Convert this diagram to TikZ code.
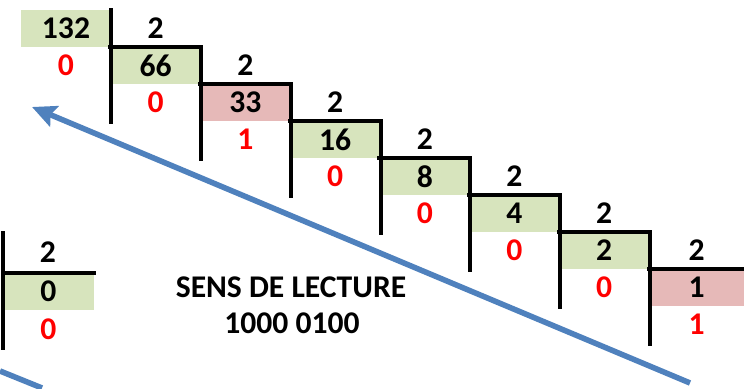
\documentclass[tikz,border=0pt]{standalone}
\usepackage{fontspec}
\setmainfont{Carlito}
\usetikzlibrary{arrows.meta}
\definecolor{quotgreen}{RGB}{215,228,189}
\definecolor{lastpink}{RGB}{230,185,184}
\definecolor{readblue}{RGB}{79,129,189}
\definecolor{remred}{RGB}{255,0,0}

\begin{document}
\begin{tikzpicture}[
  x=0.5pt,y=-0.5pt,
  font=\fontsize{15.8}{18}\selectfont\bfseries,
  qbox/.style={minimum width=45pt,minimum height=18.5pt,inner sep=0pt,fill=quotgreen},
  pbox/.style={qbox,fill=lastpink},
  dv/.style={inner sep=0pt},
  rem/.style={inner sep=0pt,text=remred},
  bar/.style={line width=2pt,line cap=rect},
  readarr/.style={-{Stealth[length=12pt,width=11pt,inset=2pt]},line width=2.8pt,color=readblue},
]
\useasboundingbox (0,0) rectangle (744,389);

% quotients
\node[qbox] (q0) at (66,28.5) {132};
\node[qbox] (q1) at (155.7,65.5) {66};
\node[pbox] (q2) at (245.4,102.5) {33};
\node[qbox] (q3) at (335.1,139.5) {16};
\node[qbox] (q4) at (424.8,176.5) {8};
\node[qbox] (q5) at (514.5,213.5) {4};
\node[qbox] (q6) at (604.2,250.5) {2};
\node[pbox,minimum width=47.5pt] (q7) at (696.5,287.5) {1};

% divisors
\node[dv] (d1) at (q1 |- q0) {2};
\node[dv] (d2) at (q2 |- q1) {2};
\node[dv] (d3) at (q3 |- q2) {2};
\node[dv] (d4) at (q4 |- q3) {2};
\node[dv] (d5) at (q5 |- q4) {2};
\node[dv] (d6) at (q6 |- q5) {2};
\node[dv] (d7) at (q7 |- q6) {2};

% remainders
\node[rem] (r0) at (q0 |- q1) {0};
\node[rem] (r1) at (q1 |- q2) {0};
\node[rem] (r2) at (q2 |- q3) {1};
\node[rem] (r3) at (q3 |- q4) {0};
\node[rem] (r4) at (q4 |- q5) {0};
\node[rem] (r5) at (q5 |- q6) {0};
\node[rem] (r6) at (q6 |- q7) {0};
\node[rem] (r7) at (696.5,324.5) {1};

% division bars
\draw[bar] (q0.north east) -- ++(0,112) (q1.north west) -- (q1.north east);
\draw[bar] (q1.north east) -- ++(0,112) (q2.north west) -- (q2.north east);
\draw[bar] (q2.north east) -- ++(0,112) (q3.north west) -- (q3.north east);
\draw[bar] (q3.north east) -- ++(0,112) (q4.north west) -- (q4.north east);
\draw[bar] (q4.north east) -- ++(0,112) (q5.north west) -- (q5.north east);
\draw[bar] (q5.north east) -- ++(0,112) (q6.north west) -- (q6.north east);
\draw[bar] (q6.north east) -- ++(0,112) (q7.north west) -- (q7.north east);

% last step
\node[qbox,minimum width=45.5pt] (q8) at (48.5,291.5) {0};
\node[dv] (d8) at (48,252) {2};
\node[rem] (r8) at (48.5,329) {0};
\draw[bar] (q8.north west) ++(0,-40) -- ++(0,115) (q8.north west) -- (q8.north east);

% reading direction
\node (sens) at (291,287) {SENS DE LECTURE};
\node (bits) at (292,323) {1000 0100};
\coordinate (arrstart) at (690,383);
\coordinate (arrtip) at (32,107);
\draw[readarr] (arrstart) -- (arrtip);
\coordinate (tailA) at (0,371);
\coordinate (tailB) at (42,388);
\draw[line width=2.8pt,readblue] (tailA) -- (tailB);

\end{tikzpicture}
\end{document}
